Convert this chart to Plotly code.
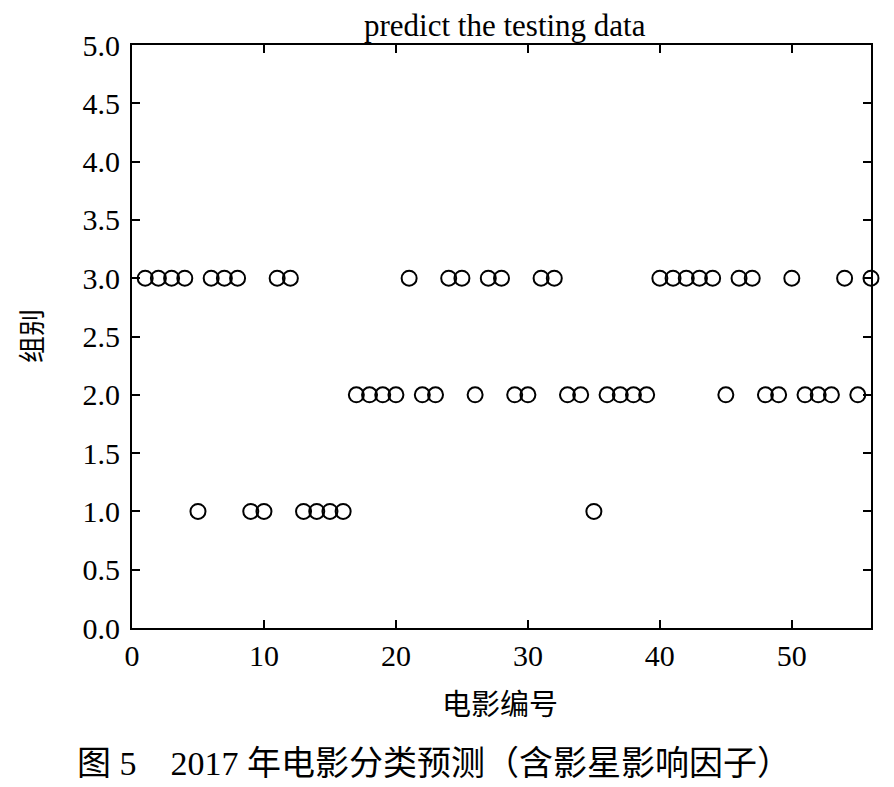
import plotly.graph_objects as go

movie_ids = list(range(1, 57))
groups = [3, 3, 3, 3, 1, 3, 3, 3, 1, 1,
          3, 3, 1, 1, 1, 1, 2, 2, 2, 2,
          3, 2, 2, 3, 3, 2, 3, 3, 2, 2,
          3, 3, 2, 2, 1, 2, 2, 2, 2, 3,
          3, 3, 3, 3, 2, 3, 3, 2, 2, 3,
          2, 2, 2, 3, 2, 3]

y_ticks = [0, 0.5, 1, 1.5, 2, 2.5, 3, 3.5, 4, 4.5, 5]
x_ticks = [0, 10, 20, 30, 40, 50]

title_text = "predict the testing data"
x_title = "电影编号"
y_title = "组别"
caption = "图 5\u00a0\u00a0\u00a0 2017 年电影分类预测（含影星影响因子）"

W, H = 894, 787
L, R, T, B = 132, 871, 45, 628
serif = "Liberation Serif, Times New Roman, serif"
cjk = "Noto Sans CJK SC, sans-serif"
mixed = "Liberation Serif, Noto Sans CJK SC, serif"

fig = go.Figure()
fig.add_trace(go.Scatter(
    x=movie_ids, y=groups, mode="markers",
    marker=dict(symbol="circle-open", size=15, color="black", line=dict(width=2, color="black")),
    cliponaxis=False, showlegend=False, hoverinfo="skip",
))

def px_x(p):
    return (p - L) / (R - L)

def px_y(p):
    return (B - p) / (B - T)

axis_common = dict(
    showgrid=False, zeroline=False, showline=True, linecolor="black", linewidth=2,
    mirror="ticks", ticks="inside", ticklen=8, tickwidth=2, tickcolor="black",
    tickfont=dict(family=serif, size=30, color="black"),
)

fig.update_xaxes(range=[0, 56], tickvals=x_ticks, ticktext=[str(v) for v in x_ticks], **axis_common)
fig.update_yaxes(range=[0, 5], tickvals=y_ticks, ticktext=[f"{v:.1f}" for v in y_ticks],
                 ticklabelstandoff=4, **axis_common)

fig.update_layout(
    width=W, height=H,
    margin=dict(l=L, r=W - R, t=T, b=H - B, pad=0),
    plot_bgcolor="white", paper_bgcolor="white",
    annotations=[
        dict(text=title_text, x=px_x(505), y=px_y(25), xref="paper", yref="paper",
             showarrow=False, xanchor="center", yanchor="middle",
             font=dict(family=serif, size=31, color="black")),
        dict(text=x_title, x=px_x(500), y=px_y(702), xref="paper", yref="paper",
             showarrow=False, xanchor="center", yanchor="middle",
             font=dict(family=cjk, size=29, color="black")),
        dict(text=y_title, x=px_x(30), y=px_y(336), xref="paper", yref="paper",
             showarrow=False, xanchor="center", yanchor="middle", textangle=-90,
             font=dict(family=cjk, size=27, color="black")),
        dict(text=caption, x=px_x(434), y=px_y(763), xref="paper", yref="paper",
             showarrow=False, xanchor="center", yanchor="middle",
             font=dict(family=mixed, size=34, color="black")),
    ],
)

fig.write_html("out.html", config={"displayModeBar": False},
               post_script="document.body.style.margin='0';document.body.style.padding='0';")
